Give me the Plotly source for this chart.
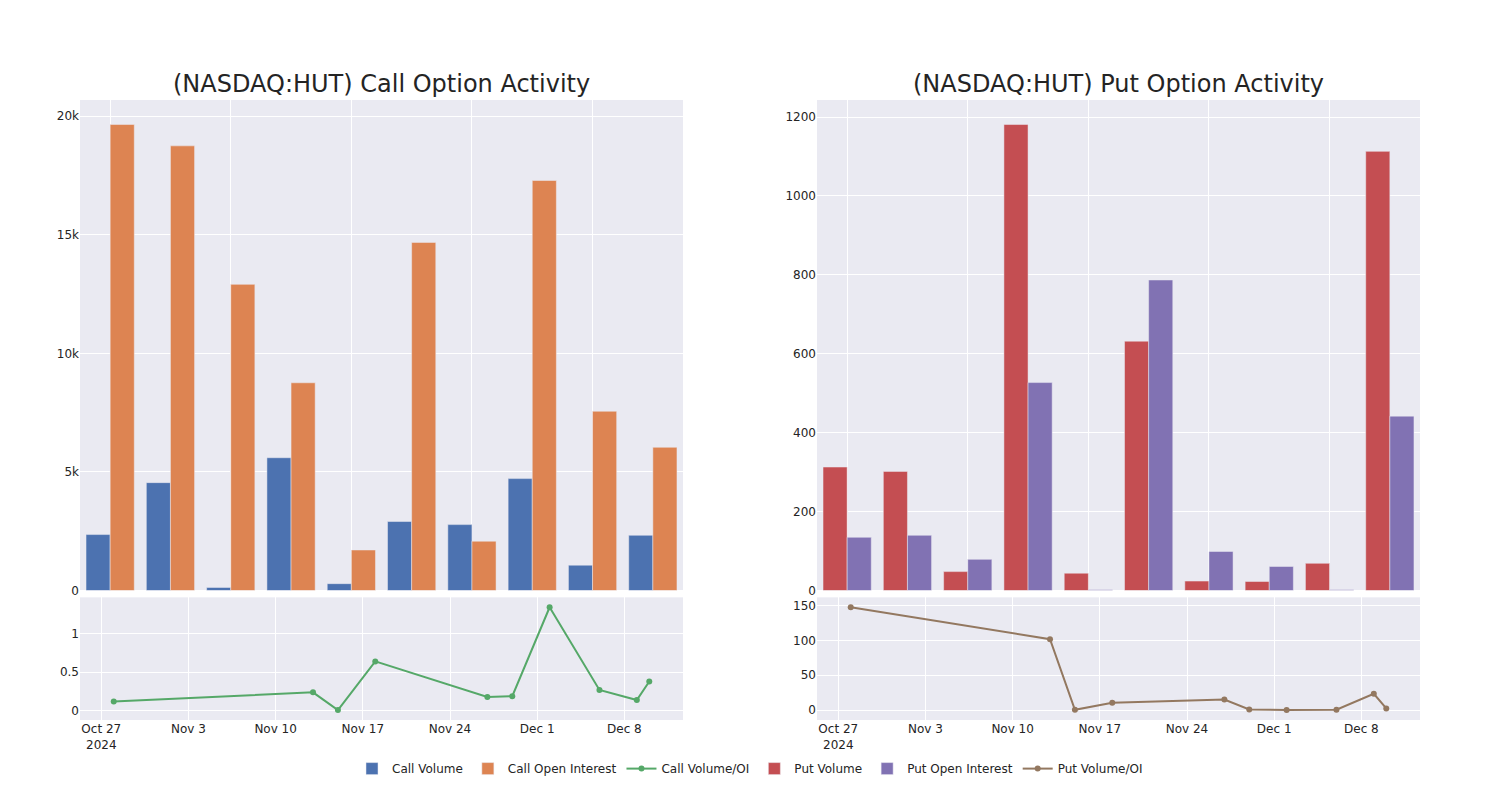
import plotly.graph_objects as go
from plotly.subplots import make_subplots

# Dates of the observations
dates = ["2024-10-28", "2024-11-13", "2024-11-15", "2024-11-18", "2024-11-27",
         "2024-11-29", "2024-12-02", "2024-12-06", "2024-12-09", "2024-12-10"]

# Call side
call_volume = [2360, 4550, 130, 5600, 290, 2910, 2780, 4720, 1070, 2330]
call_oi = [19650, 18750, 12910, 8760, 1710, 14680, 2080, 17290, 7560, 6040]
call_ratio = [0.12, 0.24, 0.01, 0.64, 0.18, 0.19, 1.34, 0.27, 0.14, 0.38]

# Put side
put_volume = [313, 302, 48, 1181, 44, 632, 24, 23, 69, 1113]
put_oi = [135, 140, 79, 527, 2, 787, 99, 61, 2, 442]
put_ratio = [147.6, 101.8, 0.5, 10.5, 15.3, 1.0, 0.0, 0.5, 23.4, 2.4]

titles = ["(NASDAQ:HUT) Call Option Activity", "(NASDAQ:HUT) Put Option Activity"]

fig = make_subplots(rows=2, cols=2, row_heights=[0.8, 0.2],
                    vertical_spacing=0.011, horizontal_spacing=0.1,
                    subplot_titles=titles)

fig.add_trace(go.Bar(x=dates, y=call_volume, name="Call Volume"), row=1, col=1)
fig.add_trace(go.Bar(x=dates, y=call_oi, name="Call Open Interest"), row=1, col=1)
fig.add_trace(go.Scatter(x=dates, y=call_ratio, name="Call Volume/OI",
                         mode="lines+markers"), row=2, col=1)
fig.add_trace(go.Bar(x=dates, y=put_volume, name="Put Volume"), row=1, col=2)
fig.add_trace(go.Bar(x=dates, y=put_oi, name="Put Open Interest"), row=1, col=2)
fig.add_trace(go.Scatter(x=dates, y=put_ratio, name="Put Volume/OI",
                         mode="lines+markers"), row=2, col=2)

for c in (1, 2):
    fig.update_xaxes(type="category", showticklabels=False,
                     tickmode="array", tickvals=dates[::2], row=1, col=c)
    fig.update_xaxes(type="date", range=["2024-10-25 07:00", "2024-12-12 17:00"],
                     row=2, col=c)

for ann in fig.layout.annotations:
    ann.font.size = 24

fig.update_layout(
    template="seaborn",
    font=dict(family="DejaVu Sans"),
    width=1500, height=800,
    margin=dict(l=72, r=88, t=92, b=88),
    barmode="group",
    legend=dict(orientation="h", x=0.5, xanchor="center", y=-0.055, yanchor="top"),
)

fig.write_html("out.html")
